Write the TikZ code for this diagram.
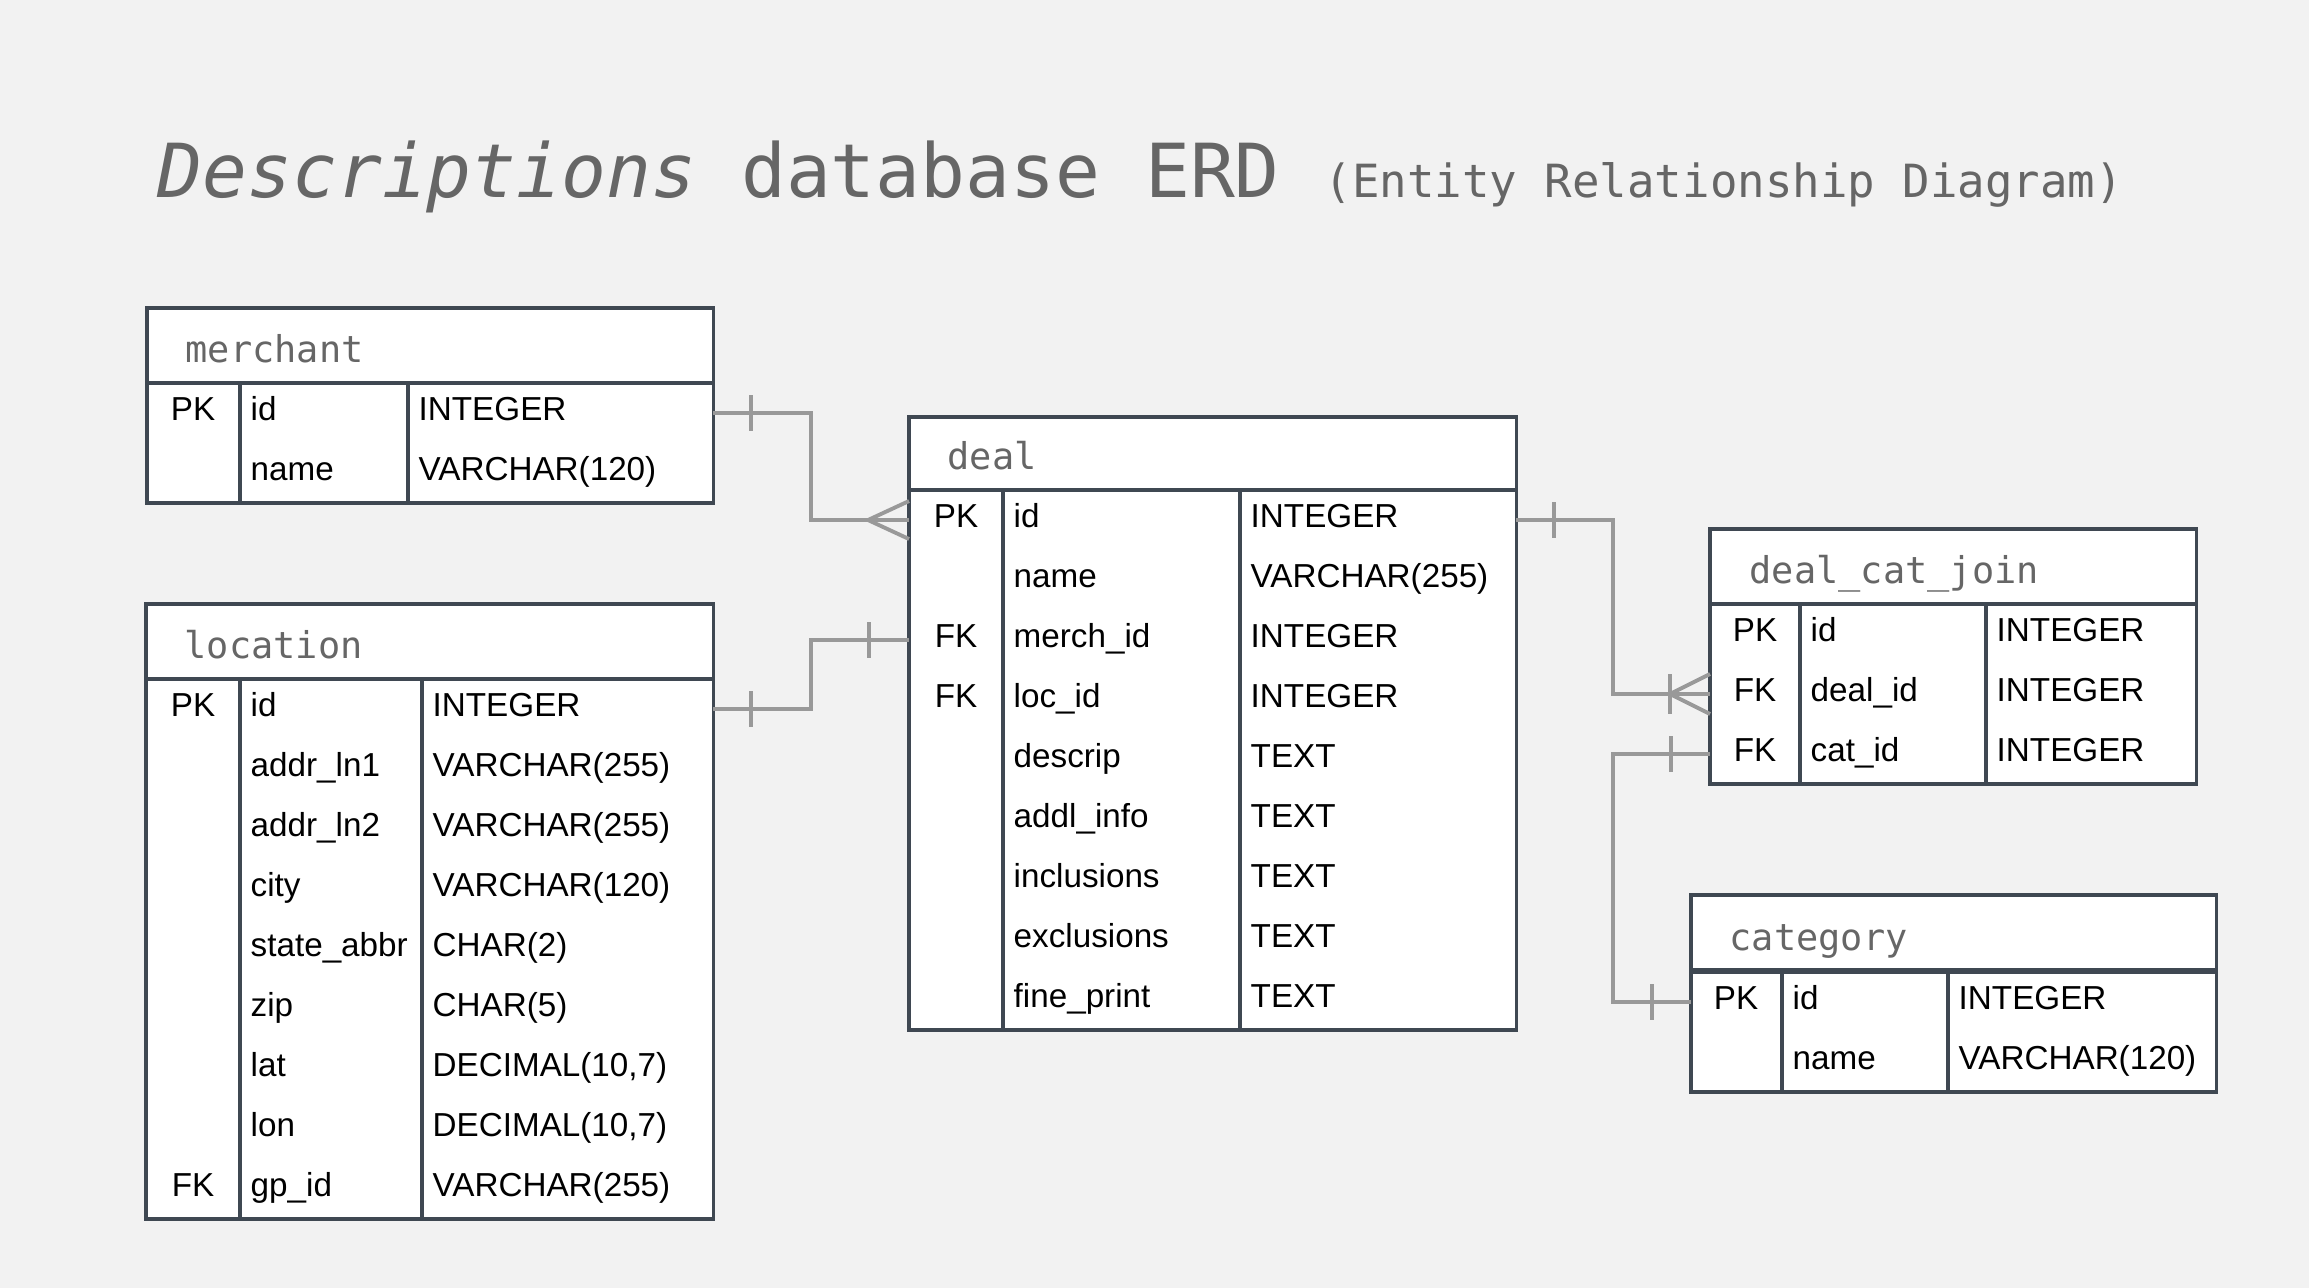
\documentclass[tikz,border=0pt]{standalone}
\usepackage{fontspec}
\setmainfont{Liberation Sans}
\setmonofont{DejaVu Sans Mono}
\usepackage{xcolor}
\usepackage{tikz}
\definecolor{paper}{HTML}{F2F2F2}
\definecolor{edge}{HTML}{3F4852}
\definecolor{wire}{HTML}{999999}
\definecolor{caption}{HTML}{666666}

\begin{document}
\begin{tikzpicture}[x=0.01cm,y=-0.01cm]
    \tikzstyle{border} = [draw=edge,line width=1pt]
    \tikzstyle{link} = [draw=wire,line width=1.1pt]
    \tikzstyle{headbox} = [border,fill=white,anchor=north west,minimum height=0.75cm,inner sep=0pt,outer sep=0pt]
    \tikzstyle{rowbox} = [fill=white,anchor=north west,minimum height=0.6cm,inner sep=0pt,outer sep=0pt]
    \tikzstyle{headtext} = [anchor=base west,inner sep=0pt,text=caption,font=\ttfamily\fontsize{10.5}{12}\selectfont]
    \tikzstyle{keycell} = [anchor=base,inner sep=0pt,font=\fontsize{9.45}{11}\selectfont]
    \tikzstyle{cell} = [anchor=base west,inner sep=0pt,font=\fontsize{9.45}{11}\selectfont]
        \fill[paper] (0,0) rectangle (2309,1288);
        \node[anchor=base west,inner sep=0pt,text=caption,font=\ttfamily\fontsize{21.2}{25}\selectfont] (title) at (157,198)
            {{\itshape Descriptions} database ERD {\fontsize{13}{15}\selectfont(Entity Relationship Diagram)}};
        % merchant
        \node[headbox,minimum width=5.66cm] (merchant) at (147,308) {};
        \node[headtext] (merchant-name) at (185,362) {merchant};
        \foreach \k/\f/\t [count=\i from 0] in {PK/id/INTEGER,{}/name/VARCHAR(120)} {
            \node[rowbox,minimum width=5.66cm] (merchant-\i) at (147,383+60*\i) {};
            \node[keycell] (merchant-k\i) at (193,420+60*\i) {\k};
            \node[cell] (merchant-f\i) at (250,420+60*\i) {\f};
            \node[cell] (merchant-t\i) at (418,420+60*\i) {\t};
        }
        \draw[border] (merchant-0.north west) rectangle (merchant-1.south east);
        \draw[border] (240,383) -- (240,503) (408,383) -- (408,503);
        % location
        \node[headbox,minimum width=5.67cm] (location) at (146,604) {};
        \node[headtext] (location-name) at (184,658) {location};
        \foreach \k/\f/\t [count=\i from 0] in {PK/id/INTEGER,{}/addr\_ln1/VARCHAR(255),{}/addr\_ln2/VARCHAR(255),
            {}/city/VARCHAR(120),{}/state\_abbr/CHAR(2),{}/zip/CHAR(5),{}/lat/{DECIMAL(10,7)},{}/lon/{DECIMAL(10,7)},
            FK/gp\_id/VARCHAR(255)} {
            \node[rowbox,minimum width=5.67cm] (location-\i) at (146,679+60*\i) {};
            \node[keycell] (location-k\i) at (193,716+60*\i) {\k};
            \node[cell] (location-f\i) at (250,716+60*\i) {\f};
            \node[cell] (location-t\i) at (432,716+60*\i) {\t};
        }
        \draw[border] (location-0.north west) rectangle (location-8.south east);
        \draw[border] (240,679) -- (240,1219) (422,679) -- (422,1219);
        % deal
        \node[headbox,minimum width=6.07cm] (deal) at (909,417) {};
        \node[headtext] (deal-name) at (947,469) {deal};
        \foreach \k/\f/\t [count=\i from 0] in {PK/id/INTEGER,{}/name/VARCHAR(255),FK/merch\_id/INTEGER,FK/loc\_id/INTEGER,
            {}/descrip/TEXT,{}/addl\_info/TEXT,{}/inclusions/TEXT,{}/exclusions/TEXT,{}/fine\_print/TEXT} {
            \node[rowbox,minimum width=6.07cm] (deal-\i) at (909,490+60*\i) {};
            \node[keycell] (deal-k\i) at (956,527+60*\i) {\k};
            \node[cell] (deal-f\i) at (1013,527+60*\i) {\f};
            \node[cell] (deal-t\i) at (1250,527+60*\i) {\t};
        }
        \draw[border] (deal-0.north west) rectangle (deal-8.south east);
        \draw[border] (1003,490) -- (1003,1030) (1240,490) -- (1240,1030);
        % deal_cat_join
        \node[headbox,minimum width=4.86cm] (dcj) at (1710,529) {};
        \node[headtext] (dcj-name) at (1749,583) {deal\_cat\_join};
        \foreach \k/\f/\t [count=\i from 0] in {PK/id/INTEGER,FK/deal\_id/INTEGER,FK/cat\_id/INTEGER} {
            \node[rowbox,minimum width=4.86cm] (dcj-\i) at (1710,604+60*\i) {};
            \node[keycell] (dcj-k\i) at (1755,641+60*\i) {\k};
            \node[cell] (dcj-f\i) at (1810,641+60*\i) {\f};
            \node[cell] (dcj-t\i) at (1996,641+60*\i) {\t};
        }
        \draw[border] (dcj-0.north west) rectangle (dcj-2.south east);
        \draw[border] (1800,604) -- (1800,784) (1986,604) -- (1986,784);
        % category
        \node[headbox,minimum width=5.25cm] (category) at (1691,895) {};
        \node[headtext] (category-name) at (1729,950) {category};
        \foreach \k/\f/\t [count=\i from 0] in {PK/id/INTEGER,{}/name/VARCHAR(120)} {
            \node[rowbox,minimum width=5.25cm] (category-\i) at (1691,972+60*\i) {};
            \node[keycell] (category-k\i) at (1736,1009+60*\i) {\k};
            \node[cell] (category-f\i) at (1792,1009+60*\i) {\f};
            \node[cell] (category-t\i) at (1958,1009+60*\i) {\t};
        }
        \draw[border] (category-0.north west) rectangle (category-1.south east);
        \draw[border] (1782,972) -- (1782,1092) (1948,972) -- (1948,1092);
        % relations
        \draw[link] (merchant-0.east) -- ++(98,0) |- (deal-0.west);
        \draw[link] (merchant-0.east) ++(38,-18) -- ++(0,36);
        \draw[link] (deal-0.west) ++(0,-19) -- ++(-41,19) -- ++(41,19);
        \draw[link] (location-0.east) -- ++(98,0) |- (deal-2.west);
        \draw[link] (location-0.east) ++(38,-18) -- ++(0,36);
        \draw[link] (deal-2.west) ++(-40,-18) -- ++(0,36);
        \draw[link] (deal-0.east) -- ++(97,0) |- (dcj-1.west);
        \draw[link] (deal-0.east) ++(38,-18) -- ++(0,36);
        \draw[link] (dcj-1.west) ++(0,-20) -- ++(-40,20) -- ++(40,20);
        \draw[link] (dcj-1.west) ++(-40,-20) -- ++(0,40);
        \draw[link] (dcj-2.west) -- ++(-97,0) |- (category-0.west);
        \draw[link] (dcj-2.west) ++(-39,-18) -- ++(0,36);
        \draw[link] (category-0.west) ++(-39,-18) -- ++(0,36);
    \end{tikzpicture}
\end{document}
